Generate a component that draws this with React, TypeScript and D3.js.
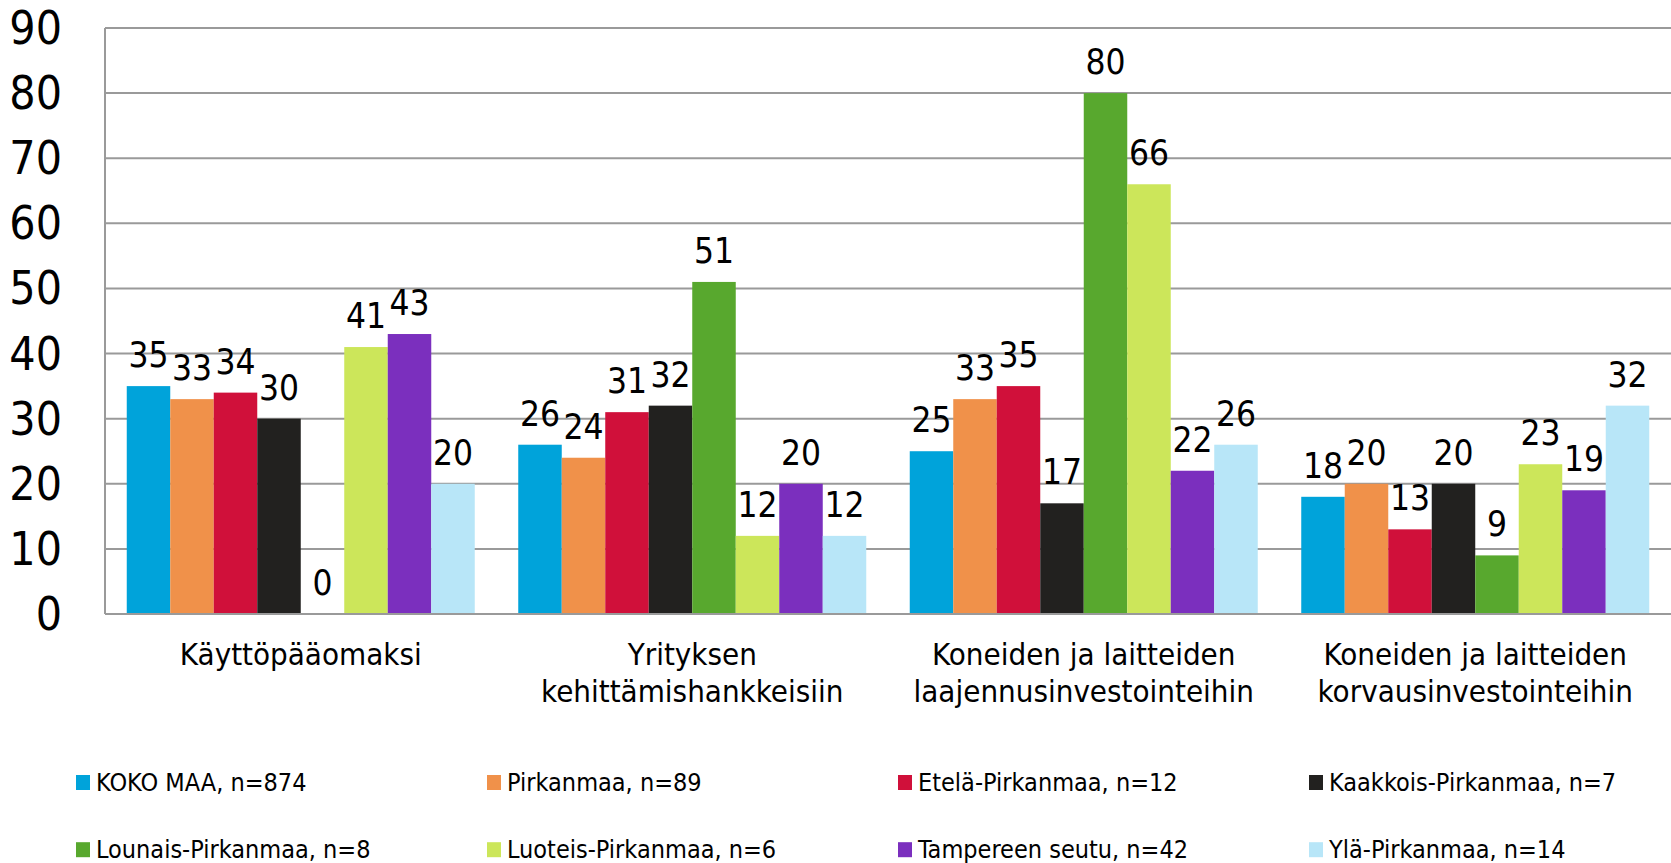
import React from "react";
import * as d3 from "d3";

const categories: string[][] = [
  ["Käyttöpääomaksi"],
  ["Yrityksen", "kehittämishankkeisiin"],
  ["Koneiden ja laitteiden", "laajennusinvestointeihin"],
  ["Koneiden ja laitteiden", "korvausinvestointeihin"],
];
const seriesNames = [
  "KOKO MAA, n=874",
  "Pirkanmaa, n=89",
  "Etelä-Pirkanmaa, n=12",
  "Kaakkois-Pirkanmaa, n=7",
  "Lounais-Pirkanmaa, n=8",
  "Luoteis-Pirkanmaa, n=6",
  "Tampereen seutu, n=42",
  "Ylä-Pirkanmaa, n=14",
];
const seriesColors = [
  "#00a3da",
  "#f0914a",
  "#d0103a",
  "#22211f",
  "#58a82e",
  "#cce65a",
  "#7b2fbe",
  "#b8e6f8",
];
const values: number[][] = [
  [35, 33, 34, 30, 0, 41, 43, 20],
  [26, 24, 31, 32, 51, 12, 20, 12],
  [25, 33, 35, 17, 80, 66, 22, 26],
  [18, 20, 13, 20, 9, 23, 19, 32],
];
const yTicks = [0, 10, 20, 30, 40, 50, 60, 70, 80, 90];

const W = 1671;
const H = 863;
const left = 105;
const right = 1671;
const top = 28;
const bottom = 614;
const FONT = "'DejaVu Sans Condensed', 'DejaVu Sans', sans-serif";

export default function App() {
  const x0 = d3
    .scaleBand<number>()
    .domain(d3.range(categories.length))
    .range([left, right])
    .paddingInner(0)
    .paddingOuter(0);
  const x1 = d3
    .scaleBand<number>()
    .domain(d3.range(seriesNames.length))
    .range([0, x0.bandwidth()])
    .paddingOuter(0.5)
    .paddingInner(0);
  const y = d3.scaleLinear().domain([0, 90]).range([bottom, top]);

  const legendX = d3.scaleLinear().domain([0, 1]).range([76, 487]);
  const legendRows = [782.5, 849.7];

  return (
    <svg
      width={W}
      height={H}
      style={{ position: "absolute", left: 0, top: 0, fontFamily: FONT, fontStretch: "condensed" }}
    >
      <rect x={0} y={0} width={W} height={H} fill="#fff" />
      {yTicks.map((t) => (
        <g key={t}>
          {t > 0 && (
            <line x1={left} x2={right} y1={y(t)} y2={y(t)} stroke="#9a9a9a" strokeWidth={2} />
          )}
          <text
            x={62}
            y={y(t)}
            textAnchor="end"
            dominantBaseline="central"
            fontSize={46}
            fill="#000"
          >
            {t}
          </text>
        </g>
      ))}
      {values.map((row, ci) => (
        <g key={ci} transform={`translate(${x0(ci)},0)`}>
          {row.map((v, si) => (
            <rect
              key={si}
              x={x1(si)!}
              y={y(v)}
              width={x1.bandwidth()}
              height={bottom - y(v)}
              fill={seriesColors[si]}
            />
          ))}
          {row.map((v, si) => (
            <text
              key={"l" + si}
              x={x1(si)! + x1.bandwidth() / 2}
              y={y(v) - 19}
              textAnchor="middle"
              fontSize={35}
              fill="#000"
            >
              {v}
            </text>
          ))}
        </g>
      ))}
      <line x1={left} x2={left} y1={top} y2={bottom} stroke="#9a9a9a" strokeWidth={2} />
      <line x1={left} x2={right} y1={bottom} y2={bottom} stroke="#9a9a9a" strokeWidth={2} />
      {categories.map((lines, ci) => (
        <text
          key={ci}
          x={x0(ci)! + x0.bandwidth() / 2}
          y={665}
          textAnchor="middle"
          fontSize={31}
          fill="#000"
        >
          {lines.map((ln, li) => (
            <tspan key={li} x={x0(ci)! + x0.bandwidth() / 2} dy={li === 0 ? 0 : 36.7}>
              {ln}
            </tspan>
          ))}
        </text>
      ))}
      {seriesNames.map((name, si) => {
        const col = si % 4;
        const row = Math.floor(si / 4);
        const lx = legendX(col);
        const ly = legendRows[row];
        return (
          <g key={si}>
            <rect x={lx} y={ly - 7.5} width={14} height={15} fill={seriesColors[si]} />
            <text x={lx + 20} y={ly} dominantBaseline="central" fontSize={25} fill="#000">
              {name}
            </text>
          </g>
        );
      })}
    </svg>
  );
}
